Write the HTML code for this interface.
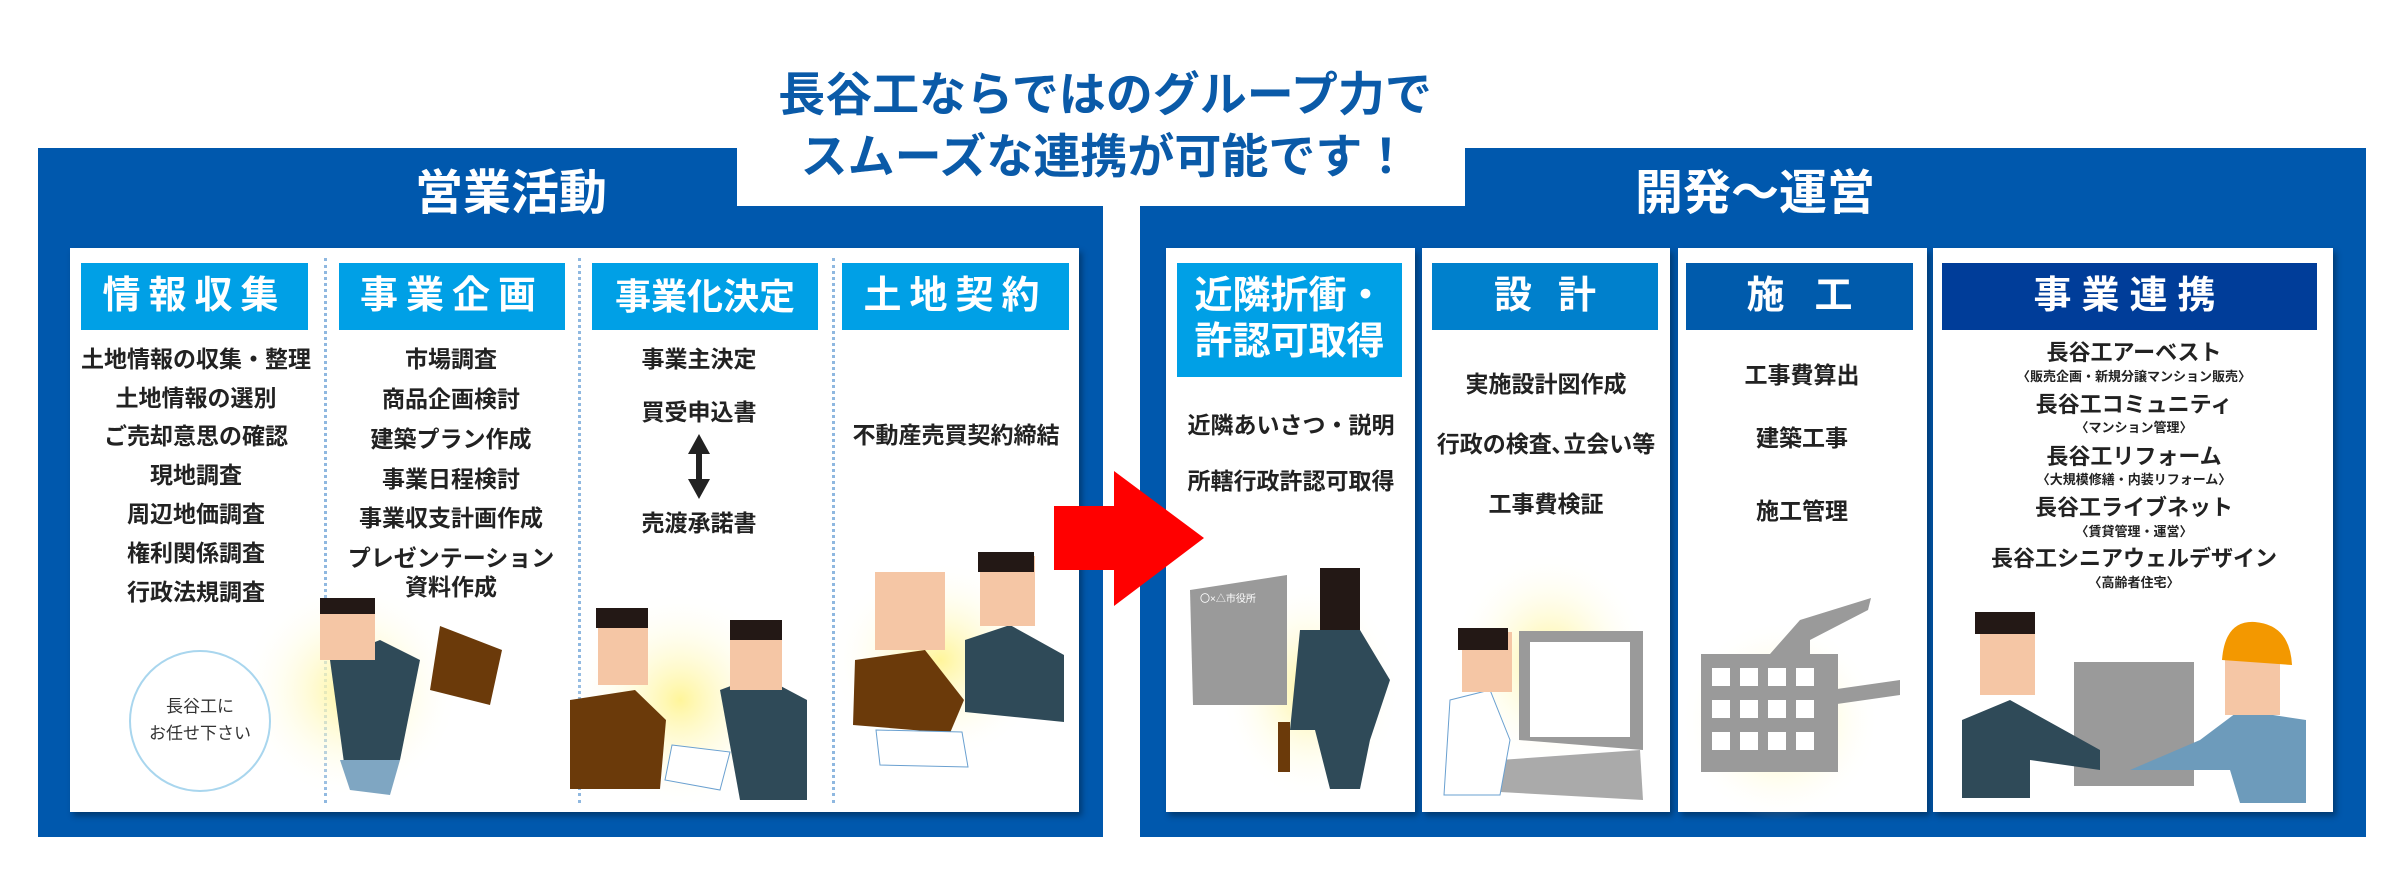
<!DOCTYPE html>
<html><head><meta charset="utf-8"><style>
*{margin:0;padding:0;box-sizing:border-box}
body{width:2400px;height:884px;background:#fff;position:relative;overflow:hidden;font-family:"Liberation Sans","Noto Sans CJK JP",sans-serif}
.a{position:absolute}
.blue{background:#0058ad}
.panel{position:absolute;background:#fff;box-shadow:3px 4px 6px rgba(0,0,0,.35)}
.hd{position:absolute;color:#fff;font-weight:bold;display:flex;align-items:center;justify-content:center;text-align:center;line-height:1.2}
.t{position:absolute;font-weight:bold;color:#222;font-size:23px;white-space:nowrap;transform:translate(-50%,-50%);text-align:center;line-height:1.2}
.s{font-size:13px;font-weight:bold;color:#222}
.dv{position:absolute;width:0;border-left:3px dotted #8fb8e0;top:258px;height:545px}
</style></head><body>
<div class="a blue" style="left:38px;top:148px;width:1065px;height:689px"></div>
<div class="a blue" style="left:1140px;top:148px;width:1226px;height:689px"></div>
<div class="a" style="left:737px;top:140px;width:728px;height:66px;background:#fff"></div>
<div class="a" style="left:1103px;top:206px;width:37px;height:640px;background:#fff"></div>

<div class="a" style="left:640px;top:64px;width:930px;text-align:center;color:#0a5aa8;font-weight:bold;font-size:47px;line-height:62px;">長谷工ならではのグループ力で<br>スムーズな連携が可能です！</div>
<div class="t" style="left:511px;top:194px;color:#fff;font-size:48px">営業活動</div>
<div class="t" style="left:1755px;top:194px;color:#fff;font-size:48px">開発〜運営</div>

<div class="panel" style="left:70px;top:248px;width:1009px;height:564px"></div>
<div class="panel" style="left:1166px;top:248px;width:249px;height:564px"></div>
<div class="panel" style="left:1422px;top:248px;width:248px;height:564px"></div>
<div class="panel" style="left:1678px;top:248px;width:249px;height:564px"></div>
<div class="panel" style="left:1933px;top:248px;width:400px;height:564px"></div>

<div class="dv" style="left:324px"></div><div class="dv" style="left:578px"></div><div class="dv" style="left:832px"></div>

<svg class="a" style="left:0;top:0" width="2400" height="884">
<defs><radialGradient id="g"><stop offset="0" stop-color="#fff59a"/><stop offset="1" stop-color="#fff" stop-opacity="0"/></radialGradient></defs>
<ellipse cx="350" cy="690" rx="110" ry="110" fill="url(#g)"/>
<ellipse cx="680" cy="700" rx="110" ry="110" fill="url(#g)"/>
<ellipse cx="940" cy="660" rx="110" ry="100" fill="url(#g)"/>
<ellipse cx="1310" cy="690" rx="90" ry="110" fill="url(#g)"/>
<ellipse cx="1550" cy="660" rx="100" ry="110" fill="url(#g)"/>
<ellipse cx="1780" cy="720" rx="100" ry="100" fill="url(#g)"/>
<!-- double arrow -->
<polygon points="699,434 710,454 702,454 702,479 710,479 699,499 688,479 696,479 696,454 688,454" fill="#222"/>
<!-- red arrow -->
<polygon points="1054,506 1114,506 1114,471 1204,538 1114,606 1114,570 1054,570" fill="#f00"/>
<!-- speech bubble -->
<ellipse cx="200" cy="721" rx="70" ry="70" fill="#fff" stroke="#a9d6ee" stroke-width="2"/>
<!-- running man -->
<polygon points="330,660 380,640 420,660 400,760 345,770" fill="#2f4a58"/>
<polygon points="340,760 400,760 390,795 350,790" fill="#7fa6c2"/>
<rect x="320" y="600" width="55" height="60" fill="#f5c6a5"/><rect x="320" y="598" width="55" height="16" fill="#231815"/>
<polygon points="440,626 502,650 490,705 430,690" fill="#6b3a0a"/>
<!-- col3 -->
<polygon points="570,700 635,690 666,720 660,789 570,789" fill="#6b3a0a"/>
<rect x="598" y="610" width="50" height="75" fill="#f5c6a5"/><rect x="596" y="608" width="52" height="20" fill="#231815"/>
<polygon points="720,690 760,675 807,700 807,800 740,800" fill="#2f4a58"/>
<rect x="730" y="622" width="52" height="68" fill="#f5c6a5"/><rect x="730" y="620" width="52" height="20" fill="#231815"/>
<polygon points="672,745 730,752 720,790 665,780" fill="#fff" stroke="#6aa0d0"/>
<!-- col4 -->
<polygon points="855,660 925,650 964,700 950,733 853,725" fill="#6b3a0a"/>
<rect x="875" y="572" width="70" height="78" fill="#f5c6a5"/>
<polygon points="965,640 1010,625 1064,655 1064,722 965,712" fill="#2f4a58"/>
<rect x="980" y="556" width="55" height="70" fill="#f5c6a5"/><rect x="978" y="552" width="56" height="20" fill="#231815"/>
<polygon points="876,730 962,732 968,767 880,765" fill="#fff" stroke="#6aa0d0"/>
<!-- right col1 -->
<polygon points="1190,590 1287,575 1287,705 1193,705" fill="#9a9a9a"/>
<text x="1200" y="602" font-size="10" fill="#fff" font-family="Liberation Sans,Noto Sans CJK JP,sans-serif">〇×△市役所</text>
<polygon points="1300,630 1360,630 1390,680 1370,740 1360,789 1330,789 1315,730 1290,730" fill="#2f4a58"/>
<rect x="1320" y="568" width="40" height="62" fill="#231815"/>
<rect x="1278" y="722" width="12" height="50" fill="#6b3a0a"/>
<!-- col2 computer -->
<polygon points="1519,631 1643,631 1643,750 1519,740" fill="#9a9a9a"/><rect x="1530" y="642" width="100" height="95" fill="#fff"/>
<polygon points="1500,760 1640,750 1643,800 1500,792" fill="#aaa"/>
<polygon points="1450,700 1490,690 1510,740 1500,795 1444,795" fill="#fff" stroke="#6aa0d0"/>
<rect x="1462" y="632" width="50" height="60" fill="#f5c6a5"/><rect x="1458" y="628" width="50" height="22" fill="#231815"/>
<!-- col3 building -->
<rect x="1701" y="654" width="137" height="118" fill="#9a9a9a"/>
<polygon points="1770,654 1800,620 1871,598 1868,610 1810,640 1810,654" fill="#9a9a9a"/>
<polygon points="1830,690 1900,680 1900,695 1830,705" fill="#9a9a9a"/>
<g fill="#fff"><rect x="1712" y="668" width="18" height="18"/><rect x="1740" y="668" width="18" height="18"/><rect x="1768" y="668" width="18" height="18"/><rect x="1796" y="668" width="18" height="18"/><rect x="1712" y="700" width="18" height="18"/><rect x="1740" y="700" width="18" height="18"/><rect x="1768" y="700" width="18" height="18"/><rect x="1796" y="700" width="18" height="18"/><rect x="1712" y="732" width="18" height="18"/><rect x="1740" y="732" width="18" height="18"/><rect x="1768" y="732" width="18" height="18"/><rect x="1796" y="732" width="18" height="18"/></g>
<!-- col4 -->
<rect x="2074" y="662" width="120" height="124" fill="#9a9a9a"/>
<polygon points="1962,720 2010,700 2100,750 2100,770 2030,760 2030,798 1962,798" fill="#2f4a58"/>
<rect x="1980" y="615" width="55" height="80" fill="#f5c6a5"/><rect x="1975" y="612" width="60" height="22" fill="#231815"/>
<polygon points="2130,770 2200,740 2240,710 2306,720 2306,803 2240,803 2230,770" fill="#6d9bbb"/>
<rect x="2225" y="645" width="55" height="70" fill="#f5c6a5"/>
<path d="M2222 660 Q2225 620 2255 622 Q2290 625 2292 665 Z" fill="#f39800"/>
</svg>

<div class="a" style="left:130px;top:693px;width:140px;text-align:center;font-size:17px;line-height:27px;color:#333">長谷工に<br>お任せ下さい</div>

<div class="hd" style="left:81px;top:263px;width:227px;height:67px;background:#00a0e6;font-size:38px;letter-spacing:8px">情報収集</div>
<div class="hd" style="left:339px;top:263px;width:226px;height:67px;background:#00a0e6;font-size:38px;letter-spacing:8px">事業企画</div>
<div class="hd" style="left:592px;top:263px;width:226px;height:67px;background:#00a0e6;font-size:36px">事業化決定</div>
<div class="hd" style="left:842px;top:263px;width:227px;height:67px;background:#00a0e6;font-size:38px;letter-spacing:8px">土地契約</div>
<div class="hd" style="left:1177px;top:263px;width:225px;height:114px;background:#00a0e6;font-size:38px">近隣折衝・<br>許認可取得</div>
<div class="hd" style="left:1432px;top:263px;width:226px;height:67px;background:#0080cc;font-size:38px;letter-spacing:26px;padding-left:26px">設計</div>
<div class="hd" style="left:1686px;top:263px;width:227px;height:67px;background:#005bac;font-size:38px;letter-spacing:30px;padding-left:30px">施工</div>
<div class="hd" style="left:1942px;top:263px;width:375px;height:67px;background:#003d99;font-size:38px;letter-spacing:10px">事業連携</div>

<div class="t" style="left:196px;top:360px">土地情報の収集・整理</div>
<div class="t" style="left:196px;top:399px">土地情報の選別</div>
<div class="t" style="left:196px;top:437px">ご売却意思の確認</div>
<div class="t" style="left:196px;top:476px">現地調査</div>
<div class="t" style="left:196px;top:515px">周辺地価調査</div>
<div class="t" style="left:196px;top:554px">権利関係調査</div>
<div class="t" style="left:196px;top:593px">行政法規調査</div>

<div class="t" style="left:451px;top:360px">市場調査</div>
<div class="t" style="left:451px;top:400px">商品企画検討</div>
<div class="t" style="left:451px;top:440px">建築プラン作成</div>
<div class="t" style="left:451px;top:480px">事業日程検討</div>
<div class="t" style="left:451px;top:519px">事業収支計画作成</div>
<div class="t" style="left:451px;top:573px;line-height:29px">プレゼンテーション<br>資料作成</div>

<div class="t" style="left:699px;top:360px">事業主決定</div>
<div class="t" style="left:699px;top:413px">買受申込書</div>
<div class="t" style="left:699px;top:524px">売渡承諾書</div>
<div class="t" style="left:956px;top:436px">不動産売買契約締結</div>

<div class="t" style="left:1291px;top:426px">近隣あいさつ・説明</div>
<div class="t" style="left:1291px;top:482px">所轄行政許認可取得</div>
<div class="t" style="left:1546px;top:385px">実施設計図作成</div>
<div class="t" style="left:1546px;top:445px">行政の検査､立会い等</div>
<div class="t" style="left:1546px;top:505px">工事費検証</div>
<div class="t" style="left:1802px;top:376px">工事費算出</div>
<div class="t" style="left:1802px;top:439px">建築工事</div>
<div class="t" style="left:1802px;top:512px">施工管理</div>

<div class="t" style="left:2134px;top:353px;font-size:22px">長谷工アーベスト</div>
<div class="t s" style="left:2134px;top:377px">〈販売企画・新規分譲マンション販売〉</div>
<div class="t" style="left:2134px;top:405px;font-size:22px">長谷工コミュニティ</div>
<div class="t s" style="left:2134px;top:428px">〈マンション管理〉</div>
<div class="t" style="left:2134px;top:457px;font-size:22px">長谷工リフォーム</div>
<div class="t s" style="left:2134px;top:480px">〈大規模修繕・内装リフォーム〉</div>
<div class="t" style="left:2134px;top:508px;font-size:22px">長谷工ライブネット</div>
<div class="t s" style="left:2134px;top:532px">〈賃貸管理・運営〉</div>
<div class="t" style="left:2134px;top:559px;font-size:22px">長谷工シニアウェルデザイン</div>
<div class="t s" style="left:2134px;top:583px">〈高齢者住宅〉</div>
</body></html>
